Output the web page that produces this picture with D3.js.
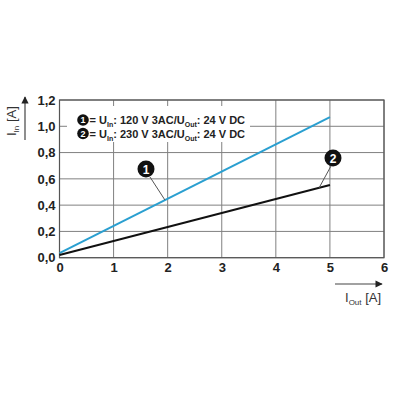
<!DOCTYPE html>
<html><head><meta charset="utf-8">
<script src="https://cdn.jsdelivr.net/npm/d3@7"></script>
<style>body{margin:0;background:#fff}svg{display:block}text{font-family:"Liberation Sans",Arial,sans-serif}</style>
</head><body>
<script>
const xTicks = [0,1,2,3,4,5,6];
const yTicks = [0,0.2,0.4,0.6,0.8,1.0,1.2];
const seriesNames = ["1","2"];
const series1 = [{x:0,y:0.035},{x:5,y:1.07}]; // 120 V
const series2 = [{x:0,y:0.02},{x:5,y:0.553}]; // 230 V
const legendLabels = [["120"],["230"]];

const W=400,H=400;
const svg=d3.select("body").append("svg").attr("width",W).attr("height",H);
const x=d3.scaleLinear().domain([0,6]).range([59.5,384]);
const y=d3.scaleLinear().domain([0,1.2]).range([257.7,100]);

// grid
const g=svg.append("g");
g.selectAll(".vg").data(xTicks).join("line")
 .attr("x1",d=>x(d)).attr("x2",d=>x(d)).attr("y1",y(0)).attr("y2",y(1.2))
 .attr("stroke","#808080").attr("stroke-width",1);
g.selectAll(".hg").data(yTicks).join("line")
 .attr("y1",d=>y(d)).attr("y2",d=>y(d)).attr("x1",x(0)).attr("x2",x(6))
 .attr("stroke","#808080").attr("stroke-width",1);
// border
svg.append("rect").attr("x",x(0)).attr("y",y(1.2)).attr("width",x(6)-x(0)).attr("height",y(0)-y(1.2))
 .attr("fill","none").attr("stroke","#555").attr("stroke-width",1.2);

// legend white box
svg.append("rect").attr("x",67).attr("y",106).attr("width",183).attr("height",36).attr("fill","#fff");

// axes tick labels
const xAxis=d3.axisBottom(x).tickValues(xTicks).tickSize(0).tickPadding(5).tickFormat(d3.format("d"));
const xa=svg.append("g").attr("transform",`translate(0,${y(0)})`).call(xAxis);
xa.select(".domain").remove();
xa.selectAll("text").attr("font-size",13).attr("font-weight","bold").attr("fill","#222").attr("font-family","Liberation Sans, Arial, sans-serif");
const yAxis=d3.axisLeft(y).tickValues(yTicks).tickSize(0).tickPadding(4).tickFormat(d=>d3.format(".1f")(d).replace(".",","));
const ya=svg.append("g").attr("transform",`translate(${x(0)},0)`).call(yAxis);
ya.select(".domain").remove();
ya.selectAll("text").attr("font-size",13).attr("font-weight","bold").attr("fill","#222").attr("font-family","Liberation Sans, Arial, sans-serif");

// lines
const line=d3.line().x(d=>x(d.x)).y(d=>y(d.y));
svg.append("path").datum(series1).attr("d",line).attr("fill","none").attr("stroke","#2a9fd0").attr("stroke-width",2);
svg.append("path").datum(series2).attr("d",line).attr("fill","none").attr("stroke","#111").attr("stroke-width",2);

// callouts
function callout(cx,cy,lx1,ly1,lx2,ly2,label){
  svg.append("line").attr("x1",lx1).attr("y1",ly1).attr("x2",lx2).attr("y2",ly2).attr("stroke","#555").attr("stroke-width",1);
  svg.append("circle").attr("cx",cx).attr("cy",cy).attr("r",8.5).attr("fill","#111");
  svg.append("text").attr("x",cx).attr("y",cy+4.5).attr("text-anchor","middle").attr("fill","#fff")
   .attr("font-size",12).attr("font-weight","bold").text(label);
}
callout(146,169,150,177,x(1.95),y(series1[0].y+(series1[1].y-series1[0].y)*1.95/5),seriesNames[0]);
callout(333,158,331,166,x(4.8),y(series2[0].y+(series2[1].y-series2[0].y)*4.8/5),seriesNames[1]);

// legend
legendLabels.forEach((lab,i)=>{
  const ly=120+i*13.5;
  svg.append("circle").attr("cx",83).attr("cy",ly).attr("r",5.8).attr("fill","#111");
  svg.append("text").attr("x",83).attr("y",ly+3.3).attr("text-anchor","middle").attr("fill","#fff")
   .attr("font-size",9).attr("font-weight","bold").text(seriesNames[i]);
  const t=svg.append("text").attr("x",89.5).attr("y",ly+4.3).attr("font-size",11).attr("font-weight","bold").attr("fill","#222");
  t.append("tspan").text("= U");
  t.append("tspan").attr("font-size",7).attr("dy",3).text("In");
  t.append("tspan").attr("dy",-3).text(`: ${lab[0]} V 3AC/U`);
  t.append("tspan").attr("font-size",7).attr("dy",3).text("Out");
  t.append("tspan").attr("dy",-3).text(": 24 V DC");
});

// arrow marker
svg.append("defs").append("marker").attr("id","ar").attr("viewBox","0 0 10 10").attr("refX",9).attr("refY",5)
 .attr("markerWidth",8).attr("markerHeight",6).attr("orient","auto")
 .append("path").attr("d","M0,0L10,5L0,10Z").attr("fill","#222");

// y axis title
svg.append("line").attr("x1",25).attr("y1",140).attr("x2",25).attr("y2",97).attr("stroke","#444").attr("stroke-width",1.2).attr("marker-end","url(#ar)");
const yt=svg.append("text").attr("transform","translate(16,136) rotate(-90)").attr("font-size",13).attr("fill","#333");
yt.append("tspan").text("I");
yt.append("tspan").attr("font-size",8).attr("dy",3).text("In");
yt.append("tspan").attr("dy",-3).text(" [A]");

// x axis title
svg.append("line").attr("x1",335).attr("y1",284).attr("x2",382).attr("y2",284).attr("stroke","#444").attr("stroke-width",1.2).attr("marker-end","url(#ar)");
const xt=svg.append("text").attr("x",345).attr("y",302).attr("font-size",13).attr("fill","#333");
xt.append("tspan").text("I");
xt.append("tspan").attr("font-size",8).attr("dy",3).text("Out");
xt.append("tspan").attr("dy",-3).text(" [A]");
</script>
</body></html>
